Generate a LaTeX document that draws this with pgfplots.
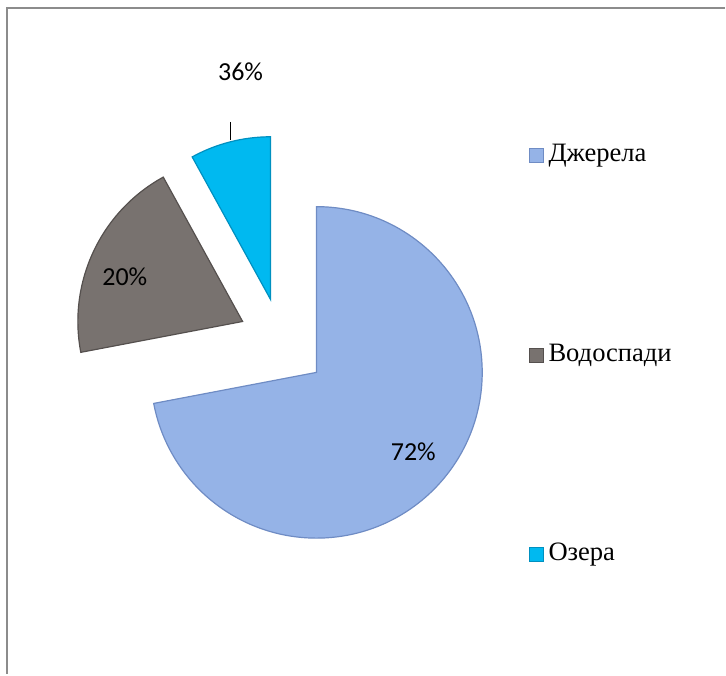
\documentclass[border=0pt]{standalone}
\usepackage{pgfplots}
\pgfplotsset{compat=1.18}
\usepackage{pgfplotstable}
\usepackage{fontspec}
\setmainfont{Liberation Serif}
\newfontfamily\lblfont{Carlito}

\definecolor{cJ}{HTML}{95B3E7}
\definecolor{cJd}{HTML}{6F8CC4}
\definecolor{cV}{HTML}{78726F}
\definecolor{cVd}{HTML}{55504E}
\definecolor{cO}{HTML}{00B9F0}
\definecolor{cOd}{HTML}{0090C0}
\definecolor{frame}{HTML}{8C8C8C}

% share (%), slice tip x/y and radius (picture px)
\pgfplotstableread{
share tipx tipy r
72 317 302 166
20 243 353 165
8  271 375 163
}\slices

\newcommand\getslice[1]{%
  \pgfplotstablegetelem{#1}{share}\of\slices\edef\sh{\pgfplotsretval}%
  \pgfplotstablegetelem{#1}{tipx}\of\slices\edef\tx{\pgfplotsretval}%
  \pgfplotstablegetelem{#1}{tipy}\of\slices\edef\ty{\pgfplotsretval}%
  \pgfplotstablegetelem{#1}{r}\of\slices\edef\rr{\pgfplotsretval}%
}

\begin{document}
\begin{tikzpicture}
% angles from shares, clockwise from 12 o'clock
\getslice{0}\pgfmathsetmacro\sA{90}\pgfmathsetmacro\eA{90-3.6*\sh}%
\edef\txA{\tx}\edef\tyA{\ty}\pgfmathsetmacro\rA{0.5*\rr}%
\getslice{1}\pgfmathsetmacro\sB{\eA}\pgfmathsetmacro\eB{\eA-3.6*\sh}%
\edef\txB{\tx}\edef\tyB{\ty}\pgfmathsetmacro\rB{0.5*\rr}%
\getslice{2}\pgfmathsetmacro\sC{\eB}\pgfmathsetmacro\eC{\eB-3.6*\sh}%
\edef\txC{\tx}\edef\tyC{\ty}\pgfmathsetmacro\rC{0.5*\rr}%
\begin{axis}[
    hide axis,
    scale only axis,
    width=363pt, height=337.5pt,
    xmin=0, xmax=726, ymin=0, ymax=675,
    clip=false,
]
\path (axis cs:0,0) rectangle (axis cs:726,675);
% frame
\draw[frame, line width=1.2pt] (axis cs:7,0) -- (axis cs:7,667) -- (axis cs:726,667);

% slices
\filldraw[fill=cJ, draw=cJd, line width=0.6pt] (axis cs:\txA,\tyA) -- ++(\sA:\rA pt)
    arc[start angle=\sA, end angle=\eA, radius=\rA pt] -- cycle;
\filldraw[fill=cV, draw=cVd, line width=0.6pt] (axis cs:\txB,\tyB) -- ++(\sB:\rB pt)
    arc[start angle=\sB, end angle=\eB, radius=\rB pt] -- cycle;
\filldraw[fill=cO, draw=cOd, line width=0.6pt] (axis cs:\txC,\tyC) -- ++(\sC:\rC pt)
    arc[start angle=\sC, end angle=\eC, radius=\rC pt] -- cycle;

% data labels
\node[font=\lblfont\fontsize{13}{15}\selectfont] at (axis cs:414,223) {72\%};
\node[font=\lblfont\fontsize{13}{15}\selectfont] at (axis cs:125,398) {20\%};
\node[font=\lblfont\fontsize{13}{15}\selectfont] at (axis cs:241,603) {36\%};
\draw[black, line width=0.7pt] (axis cs:231,553) -- (axis cs:231,535);

% legend
\filldraw[fill=cJ, draw=cJd, line width=0.4pt] (axis cs:530,512) rectangle (axis cs:544,526);
\node[anchor=west, inner sep=0pt, font=\fontsize{13.3}{15}\selectfont] at (axis cs:549,519) {Джерела};
\filldraw[fill=cV, draw=cVd, line width=0.4pt] (axis cs:530,312) rectangle (axis cs:544,326);
\node[anchor=west, inner sep=0pt, font=\fontsize{13.3}{15}\selectfont] at (axis cs:549,319) {Водоспади};
\filldraw[fill=cO, draw=cOd, line width=0.4pt] (axis cs:530,113) rectangle (axis cs:544,127);
\node[anchor=west, inner sep=0pt, font=\fontsize{13.3}{15}\selectfont] at (axis cs:549,120) {Озера};
\end{axis}
\end{tikzpicture}
\end{document}
